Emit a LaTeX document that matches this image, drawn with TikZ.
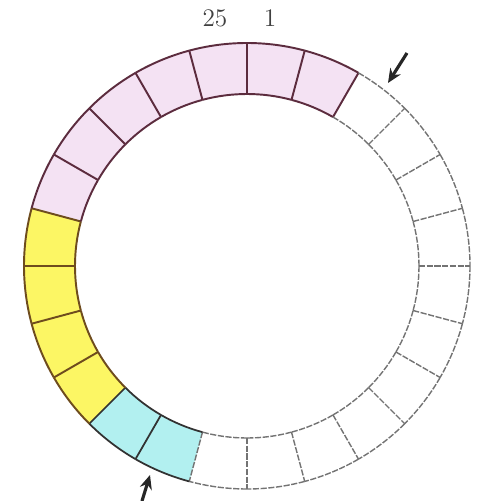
\documentclass[tikz,border=0pt]{standalone}
\usepackage{tikz}
\usetikzlibrary{arrows.meta, positioning}

\definecolor{segpink}{RGB}{244,226,243}
\definecolor{segyellow}{RGB}{252,246,100}
\definecolor{segcyan}{RGB}{178,240,240}
\definecolor{linepink}{RGB}{92,44,62}
\definecolor{lineyellow}{RGB}{110,76,30}
\definecolor{linecyan}{RGB}{50,50,50}
\definecolor{linewhite}{RGB}{115,115,115}

\tikzset{
    pinkseg/.style={fill=segpink},
    yellowseg/.style={fill=segyellow},
    cyanseg/.style={fill=segcyan},
    whiteseg/.style={fill=white},
    pinkedge/.style={draw=linepink, line width=1.1pt},
    yellowedge/.style={draw=lineyellow, line width=1.1pt},
    cyanedge/.style={draw=linecyan, line width=1pt},
    whiteedge/.style={draw=linewhite, line width=0.8pt, dash pattern=on 3.5pt off 0.9pt},
    pointer/.style={-{Stealth[length=8pt, width=7pt]}, line width=1.8pt, draw=black!85},
    numlabel/.style={text=black!75, font=\Large}
}

\begin{document}
\begin{tikzpicture}[x=0.02cm, y=0.02cm]
    \useasboundingbox (-247,-235) rectangle (238,266);
    \def\rout{223}
    \def\rin{172}
    \foreach \k in {1,...,24} {
        \pgfmathsetmacro{\aone}{90-15*(\k-1)}
        \pgfmathsetmacro{\atwo}{90-15*\k}
        \ifnum\k<3
            \def\segkind{pink}
        \else\ifnum\k<14
            \def\segkind{white}
        \else\ifnum\k<16
            \def\segkind{cyan}
        \else\ifnum\k<20
            \def\segkind{yellow}
        \else
            \def\segkind{pink}
        \fi\fi\fi\fi
        \path[\segkind seg] (\aone:\rout) arc[start angle=\aone, end angle=\atwo, radius=\rout]
            -- (\atwo:\rin) arc[start angle=\atwo, end angle=\aone, radius=\rin] -- cycle;
    }
    \foreach \k in {1,...,24} {
        \pgfmathsetmacro{\aone}{90-15*(\k-1)}
        \pgfmathsetmacro{\atwo}{90-15*\k}
        \ifnum\k<3
            \def\segkind{pink}
        \else\ifnum\k<14
            \def\segkind{white}
        \else\ifnum\k<16
            \def\segkind{cyan}
        \else\ifnum\k<20
            \def\segkind{yellow}
        \else
            \def\segkind{pink}
        \fi\fi\fi\fi
        \draw[\segkind edge] (\aone:\rout) arc[start angle=\aone, end angle=\atwo, radius=\rout];
        \draw[\segkind edge] (\aone:\rin) arc[start angle=\aone, end angle=\atwo, radius=\rin];
        \draw[\segkind edge] (\atwo:\rin) -- (\atwo:\rout);
    }
    \draw[pinkedge] (90:\rin) -- (90:\rout);

    \node[numlabel] (lab25) at (-32,248) {25};
    \node[numlabel] (lab1) at (23,248) {1};

    \coordinate (tailtop) at (160,213);
    \coordinate (headtop) at (141,183);
    \coordinate (tailbot) at (-105,-235);
    \coordinate (headbot) at (-97,-209);
    \draw[pointer] (tailtop) -- (headtop);
    \draw[pointer] (tailbot) -- (headbot);
\end{tikzpicture}
\end{document}
